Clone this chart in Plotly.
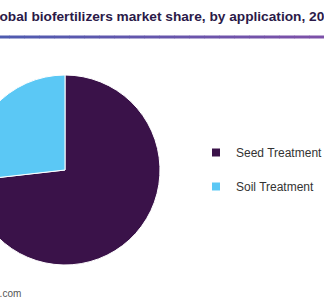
import plotly.graph_objects as go

# ---- data ----
categories = ["Seed Treatment", "Soil Treatment"]
shares = [73.2, 26.8]
colors = ["#3a1249", "#5bc8f5"]
title_text = "Global biofertilizers market share, by application, 2021 (%)"
source_text = "Source: www.grandviewresearch.com"

# ---- layout constants (figure is wider than the view and shifted left by SHIFT px) ----
SHIFT = 36
EXTRA_R = 60
W, H = 324 + SHIFT + EXTRA_R, 300
FONT = "Arial, Liberation Sans, sans-serif"

def px_x(x):  # screen x -> paper fraction
    return (x + SHIFT) / W

def px_y(y):  # screen y (top-down) -> paper fraction
    return (H - y) / H

cx, cy, r = 65, 170, 95

fig = go.Figure()
fig.add_trace(go.Pie(
    labels=categories, values=shares, sort=False, direction="clockwise", rotation=0,
    marker=dict(colors=colors, line=dict(color="white", width=1)),
    textinfo="none", hoverinfo="label+percent", showlegend=False,
    domain=dict(x=[px_x(cx - r), px_x(cx + r)], y=[px_y(cy + r), px_y(cy - r)]),
))

for i, (cat, col) in enumerate(zip(categories, colors)):
    fig.add_trace(go.Scatter(
        x=[None], y=[None], mode="markers", name=cat, legendgroup=f"g{i}",
        marker=dict(symbol="square", size=8, color=col),
    ))

# gradient rule under title
n_seg = 24
c0 = (74, 92, 176)
c1 = (124, 80, 168)
x_start, x_end = -SHIFT, 324
for k in range(n_seg):
    t = k / (n_seg - 1)
    c = tuple(round(a + (b - a) * t) for a, b in zip(c0, c1))
    x0 = x_start + k * (x_end - x_start) / n_seg
    x1 = x_start + (k + 1) * (x_end - x_start) / n_seg + 0.5
    fig.add_shape(type="rect", xref="paper", yref="paper",
                  x0=px_x(x0), x1=px_x(x1), y0=px_y(38.5), y1=px_y(35.5),
                  line=dict(width=0), fillcolor="rgb(%d,%d,%d)" % c, layer="above")

fig.add_annotation(text="<b>%s</b>" % title_text, xref="paper", yref="paper",
                   x=px_x(-17), y=px_y(16), xanchor="left", yanchor="middle",
                   showarrow=False, font=dict(family=FONT, size=13.7, color="#2b1a48"))
fig.add_annotation(text=source_text, xref="paper", yref="paper",
                   x=px_x(23), y=px_y(293), xanchor="right", yanchor="middle",
                   showarrow=False, font=dict(family=FONT, size=10, color="#555555"))

fig.update_layout(
    width=W, height=H, margin=dict(l=0, r=0, t=0, b=0, autoexpand=False),
    paper_bgcolor="white", plot_bgcolor="white",
    xaxis=dict(visible=False), yaxis=dict(visible=False),
    legend=dict(x=px_x(196), y=px_y(138), xanchor="left", yanchor="top",
                font=dict(family=FONT, size=12, color="#333333"),
                tracegroupgap=15, bgcolor="rgba(0,0,0,0)"),
    font=dict(family=FONT),
)

post = ("var gd=document.getElementById('{plot_id}');"
        "gd.style.marginLeft='-%dpx';"
        "document.body.style.margin='0';document.body.style.overflow='hidden';" % SHIFT)
fig.write_html("out.html", post_script=post)
